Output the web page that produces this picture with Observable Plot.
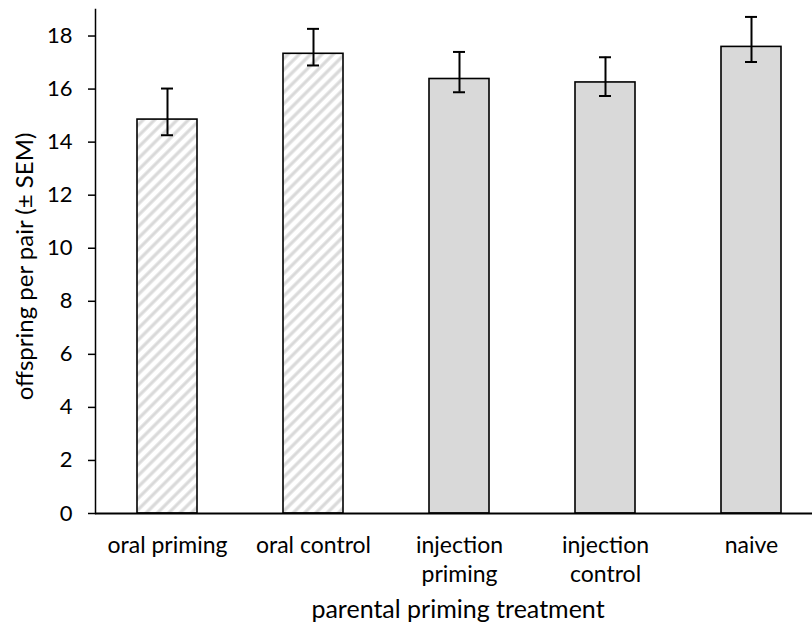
<!DOCTYPE html>
<html>
<head>
<meta charset="utf-8">
<script src="https://cdn.jsdelivr.net/npm/d3@7"></script>
<script src="https://cdn.jsdelivr.net/npm/@observablehq/plot@0.6"></script>
<style>
  html, body { margin: 0; padding: 0; background: #fff; }
</style>
</head>
<body>
<div id="chart"></div>
<script>
const categories = ["oral priming", "oral control", "injection priming", "injection control", "naive"];
const tickLabels = ["oral priming", "oral control", "injection\npriming", "injection\ncontrol", "naive"];
const means = [14.85, 17.33, 16.38, 16.25, 17.59];
const semLow = [14.26, 16.89, 15.88, 15.74, 17.02];
const semHigh = [16.02, 18.27, 17.40, 17.20, 18.72];
const hatched = [true, true, false, false, false];
const yTicks = [0, 2, 4, 6, 8, 10, 12, 14, 16, 18];
const xTitle = "parental priming treatment";
const yTitle = "offspring per pair (\u00b1 SEM)";

const data = categories.map((c, i) => ({
  cat: c, mean: means[i], lo: semLow[i], hi: semHigh[i], hatched: hatched[i]
}));
const labelOf = new Map(categories.map((c, i) => [c, tickLabels[i]]));

const font = "Lato, 'Open Sans', sans-serif";

const chart = Plot.plot({
  width: 812,
  height: 628,
  marginTop: 9,
  marginBottom: 115,
  marginLeft: 95,
  marginRight: 0,
  style: { fontFamily: font, fontSize: "22px", color: "#000", background: "#fff" },
  x: { domain: categories, range: [94, 824], paddingInner: 0.59, paddingOuter: 0.295, label: null },
  y: { domain: [0, 19], label: null },
  marks: [
    Plot.frame({ anchor: "left", stroke: "#000", strokeWidth: 1.5 }),
    Plot.axisY({ ticks: yTicks, tickSize: 7, tickPadding: 16, label: null, fontSize: 22, strokeWidth: 1.5 }),
    Plot.axisX({ tickSize: 0, tickPadding: 19, tickFormat: d => labelOf.get(d), label: null, fontSize: 23, lineHeight: 1.26 }),
    Plot.barY(data.filter(d => d.hatched), { x: "cat", y: "mean", fill: "url(#hatch)", stroke: "#000", strokeWidth: 1.6 }),
    Plot.barY(data.filter(d => !d.hatched), { x: "cat", y: "mean", fill: "#d9d9d9", stroke: "#000", strokeWidth: 1.6 }),
    Plot.ruleX(data, { x: "cat", y1: "lo", y2: "hi", stroke: "#000", strokeWidth: 2 }),
    Plot.tickY(data, { x: "cat", y: "lo", stroke: "#000", strokeWidth: 2, insetLeft: 24, insetRight: 24 }),
    Plot.tickY(data, { x: "cat", y: "hi", stroke: "#000", strokeWidth: 2, insetLeft: 24, insetRight: 24 }),
    Plot.ruleY([0], { stroke: "#000", strokeWidth: 2 }),
    Plot.text([xTitle], { text: d => d, frameAnchor: "bottom", lineAnchor: "middle", textAnchor: "middle", dx: 4, dy: 96, fontSize: 25 }),
    Plot.text([yTitle], { text: d => d, frameAnchor: "left", lineAnchor: "middle", textAnchor: "middle", rotate: -90, dx: -70, dy: 5, fontSize: 24 })
  ]
});

const svg = d3.select(chart);
const defs = svg.insert("defs", ":first-child");
const pat = defs.append("pattern")
  .attr("id", "hatch")
  .attr("patternUnits", "userSpaceOnUse")
  .attr("width", 8)
  .attr("height", 8)
  .attr("patternTransform", "rotate(45)");
pat.append("rect").attr("width", 8).attr("height", 8).attr("fill", "#fff");
pat.append("line").attr("x1", 2).attr("y1", 0).attr("x2", 2).attr("y2", 8)
  .attr("stroke", "#d9d9d9").attr("stroke-width", 3.2);

document.getElementById("chart").appendChild(chart);
</script>
</body>
</html>
